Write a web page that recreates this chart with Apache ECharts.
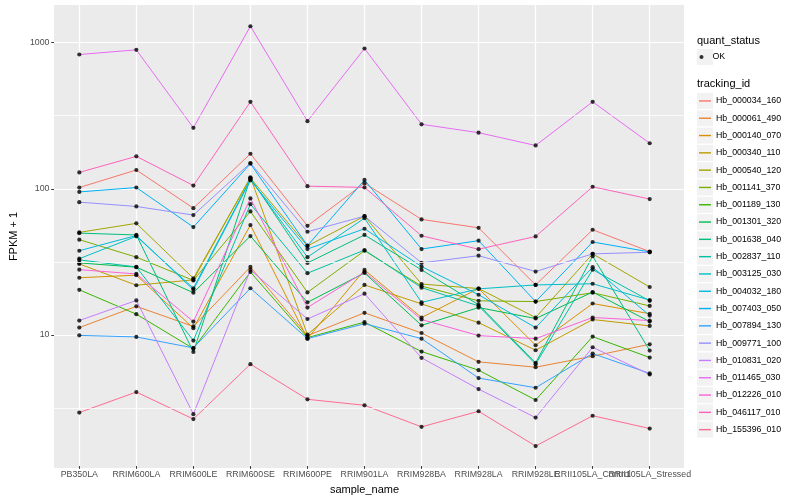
<!DOCTYPE html>
<html><head><meta charset="utf-8">
<script src="https://cdn.jsdelivr.net/npm/echarts@6/dist/echarts.min.js"></script>
<style>html,body{margin:0;padding:0;background:#fff}#c{width:800px;height:500px}</style>
</head><body><div id="c"></div>
<script>
const categories = ['PB350LA','RRIM600LA','RRIM600LE','RRIM600SE','RRIM600PE','RRIM901LA','RRIM928BA','RRIM928LA','RRIM928LE','RRII105LA_Control','RRII105LA_Stressed'];
const trackingIds = ['Hb_000034_160','Hb_000061_490','Hb_000140_070','Hb_000340_110','Hb_000540_120','Hb_001141_370','Hb_001189_130','Hb_001301_320','Hb_001638_040','Hb_002837_110','Hb_003125_030','Hb_004032_180','Hb_007403_050','Hb_007894_130','Hb_009771_100','Hb_010831_020','Hb_011465_030','Hb_012226_010','Hb_046117_010','Hb_155396_010'];
const seriesColors = ['#F8766D','#EA8331','#D89000','#C09B00','#A3A500','#7CAE00','#39B600','#00BB4E','#00BF7D','#00C1A3','#00BFC4','#00BAE0','#00B0F6','#35A2FF','#9590FF','#C77CFF','#E76BF3','#FA62DB','#FF62BC','#FF6C91'];
const yTicks = [10, 100, 1000];
const minorGridValues = [3.162, 31.62, 316.2];

const hb000034_160 = [100.8, 133, 72.7, 172, 55.0, 108, 60.9, 53.3, 21.6, 51.7, 36.6];
const hb000061_490 = [11.0, 15.4, 11.2, 28.7, 9.69, 13.9, 10.1, 6.40, 5.88, 7.0, 8.45];
const hb000140_070 = [24.2, 25.2, 10.9, 55.7, 9.24, 27.4, 12.9, 20.4, 8.32, 16.1, 13.7];
const hb000340_110 = [30.1, 21.5, 23.4, 118.6, 9.84, 21.6, 16.0, 11.9, 7.69, 12.5, 11.3];
const hb000540_120 = [49.6, 57.2, 24.0, 117, 40.0, 64.1, 21.9, 20.4, 12.9, 35.3, 20.9];
const hb001141_370 = [44.2, 33.5, 23.2, 69.1, 19.2, 37.1, 21.2, 16.8, 16.6, 19.1, 15.5];
const hb001189_130 = [20.0, 13.6, 7.89, 26.5, 9.39, 12.0, 7.53, 5.61, 3.50, 9.54, 6.85];
const hb001301_320 = [30.6, 28.6, 19.1, 46.8, 16.4, 26.1, 11.4, 15.1, 12.7, 19.3, 12.1];
const hb001638_040 = [49.0, 47.6, 7.49, 116.7, 30.6, 47.6, 27.4, 15.8, 6.3, 34.0, 7.65];
const hb002837_110 = [32.1, 28.7, 8.96, 77.5, 26.0, 37.5, 20.7, 15.5, 6.17, 27.5, 16.8];
const hb003125_030 = [32.7, 46.6, 20.5, 114.8, 33.5, 62.1, 16.4, 20.3, 21.6, 22.0, 17.0];
const hb004032_180 = [37.1, 47.2, 20.0, 113, 38.1, 52.5, 28.9, 18.5, 11.0, 28.6, 13.3];
const hb007403_050 = [94, 100.8, 53.9, 147, 40.2, 113.6, 38.1, 43.5, 16.6, 42.6, 36.4];
const hb007894_130 = [9.73, 9.49, 7.98, 20.5, 9.24, 11.7, 9.24, 4.95, 4.25, 7.30, 5.33];
const hb009771_100 = [80, 74.7, 65.2, 148.5, 50.1, 64.1, 30.6, 34.3, 26.7, 35.3, 36.2];
const hb010831_020 = [12.3, 16.9, 2.80, 27.4, 12.6, 18.8, 6.82, 4.16, 2.65, 8.06, 5.24];
const hb011465_030 = [826, 889, 259, 1291, 288, 908, 274, 240, 196, 391, 203];
const hb012226_010 = [27.5, 25.7, 12.1, 84.8, 15.1, 26.5, 12.5, 9.69, 9.24, 12.9, 12.3];
const hb046117_010 = [128, 165, 104, 391, 103, 101, 47, 38, 46.5, 102, 84];
const hb155396_010 = [2.87, 3.97, 2.59, 6.17, 3.54, 3.22, 2.29, 2.93, 1.69, 2.73, 2.23];

const values = [hb000034_160, hb000061_490, hb000140_070, hb000340_110, hb000540_120, hb001141_370, hb001189_130, hb001301_320, hb001638_040, hb002837_110, hb003125_030, hb004032_180, hb007403_050, hb007894_130, hb009771_100, hb010831_020, hb011465_030, hb012226_010, hb046117_010, hb155396_010];

const FONT = "'Liberation Sans', Arial, Helvetica, sans-serif";
const Y_MIN = 1.231, Y_MAX = 1807;

const chart = echarts.init(document.getElementById('c'), null, {renderer: 'canvas'});

const lineSeries = trackingIds.map((id, i) => ({
  name: id, type: 'line', xAxisIndex: 0, yAxisIndex: 0,
  data: values[i], color: seriesColors[i], symbol: 'none', showSymbol: false,
  lineStyle: {width: 1, color: seriesColors[i]}, silent: true, z: 2
}));
const okPoints = [];
values.forEach(arr => arr.forEach((v, ci) => okPoints.push([ci, v])));
// minor grid: one tiny helper series per minor value, each carrying a horizontal markLine
const minorPoints = minorGridValues.map(v => [0.5, v]);

const graphics = [];
graphics.push({type: 'rect', x: 697, y: 49, shape: {width: 16, height: 16}, style: {fill: '#F2F2F2'}, silent: true, z: -5});
for (let k = 0; k < trackingIds.length; k++) {
  graphics.push({type: 'rect', x: 697, y: 101 + 17.3 * k - 8, shape: {width: 16, height: 16}, style: {fill: '#F2F2F2'}, silent: true, z: -5});
}
graphics.push({type: 'text', x: 697, y: 40.7, style: {text: 'quant_status', fontSize: 11, fontFamily: FONT, fill: '#000', verticalAlign: 'middle'}, silent: true});
graphics.push({type: 'text', x: 697, y: 84.3, style: {text: 'tracking_id', fontSize: 11, fontFamily: FONT, fill: '#000', verticalAlign: 'middle'}, silent: true});

const option = {
  animation: false,
  backgroundColor: '#fff',
  textStyle: {fontFamily: FONT},
  grid: [
    {left: 79.3, right: 150.3, top: 5, bottom: 32, containLabel: false},
    {left: 45, right: 116, top: 5, bottom: 32, show: true, backgroundColor: '#EBEBEB', borderWidth: 0, containLabel: false}
  ],
  xAxis: [
    {gridIndex: 0, type: 'category', data: categories, boundaryGap: false,
     axisLine: {show: false},
     axisTick: {show: true, length: 2.7, lineStyle: {color: '#333', width: 1}},
     axisLabel: {interval: 0, color: '#4D4D4D', fontSize: 8.8, margin: 4, fontFamily: FONT},
     splitLine: {show: true, lineStyle: {color: '#fff', width: 1.2}},
     name: 'sample_name', nameLocation: 'middle', nameGap: 15,
     nameTextStyle: {color: '#000', fontSize: 11, fontFamily: FONT}},
    {gridIndex: 1, type: 'value', show: false, min: 0, max: 1}
  ],
  yAxis: [
    {gridIndex: 0, type: 'log', logBase: 10, min: Y_MIN, max: Y_MAX, show: false},
    {gridIndex: 1, type: 'log', logBase: 10, min: Y_MIN, max: Y_MAX,
     axisLine: {show: false},
     axisTick: {show: true, length: 2.7, lineStyle: {color: '#333', width: 1}},
     axisLabel: {color: '#4D4D4D', fontSize: 8.8, margin: 4.5, fontFamily: FONT,
                 showMinLabel: false, showMaxLabel: false,
                 formatter: v => (yTicks.indexOf(Math.round(v)) >= 0 ? String(Math.round(v)) : '')},
     splitLine: {show: true, showMinLine: false, showMaxLine: false, lineStyle: {color: '#fff', width: 1.2}},
     name: 'FPKM + 1', nameLocation: 'middle', nameGap: 26, nameRotate: 90,
     nameTextStyle: {color: '#000', fontSize: 11, fontFamily: FONT}}
  ],
  legend: [
    {data: ['OK'], orient: 'vertical', left: 699.5, top: 48.5, padding: 0,
     icon: 'circle', itemWidth: 12, itemHeight: 4, selectedMode: false,
     textStyle: {fontSize: 8.8, color: '#000', lineHeight: 17, fontFamily: FONT}},
    {data: trackingIds, orient: 'vertical', left: 699, top: 92.3, padding: 0,
     icon: 'rect', itemWidth: 12, itemHeight: 1.4, itemGap: 0, selectedMode: false,
     textStyle: {fontSize: 8.8, color: '#000', lineHeight: 17.3, fontFamily: FONT}}
  ],
  graphic: graphics,
  series: [
    {name: 'minorGrid', type: 'scatter', xAxisIndex: 1, yAxisIndex: 1, data: minorPoints,
     symbolSize: 0, itemStyle: {opacity: 0}, z: 1, silent: true,
     markLine: {silent: true, symbol: ['none', 'none'], label: {show: false}, animation: false,
                emphasis: {disabled: true},
                lineStyle: {color: '#FFFFFF', width: 0.8, type: 'solid', opacity: 1},
                data: minorGridValues.map(v => ({yAxis: v}))}},
    ...lineSeries,
    {name: 'OK', type: 'scatter', xAxisIndex: 0, yAxisIndex: 0, data: okPoints,
     symbol: 'circle', symbolSize: 4.2, itemStyle: {color: '#000'}, z: 3, silent: true}
  ]
};
chart.setOption(option);
</script></body></html>
